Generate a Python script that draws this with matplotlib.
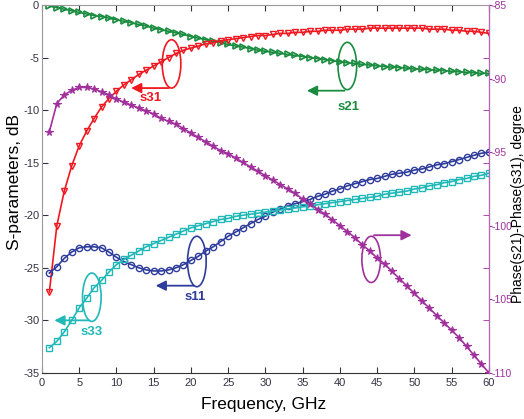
import matplotlib
matplotlib.use("Agg")
import matplotlib.pyplot as plt
from matplotlib.patches import Ellipse
import numpy as np

plt.rcParams["font.family"] = ["Liberation Sans", "DejaVu Sans"]
plt.rcParams["axes.unicode_minus"] = False

# frequency points, GHz
freq = list(range(1, 61))

s11 = [-25.5, -24.9, -24.1, -23.5, -23.1, -23.0, -23.0, -23.1, -23.5, -24.0,
       -24.4, -24.7, -25.0, -25.2, -25.3, -25.3, -25.2, -25.0, -24.7, -24.3,
       -23.9, -23.4, -23.0, -22.5, -22.0, -21.6, -21.2, -20.8, -20.4, -20.1,
       -19.7, -19.4, -19.1, -18.9, -18.7, -18.5, -18.2, -18.0, -17.7, -17.5,
       -17.2, -17.0, -16.8, -16.6, -16.5, -16.3, -16.1, -16.0, -15.9, -15.7,
       -15.6, -15.4, -15.2, -15.1, -14.9, -14.7, -14.5, -14.3, -14.1, -14.0]

s33 = [-32.6, -32.0, -31.1, -30.0, -28.8, -27.9, -26.9, -26.2, -25.4, -24.7,
       -24.2, -23.8, -23.4, -23.0, -22.7, -22.4, -22.1, -21.8, -21.5, -21.2,
       -21.0, -20.8, -20.6, -20.4, -20.3, -20.1, -20.0, -19.9, -19.8, -19.7,
       -19.6, -19.5, -19.4, -19.3, -19.2, -19.1, -19.0, -18.9, -18.8, -18.7,
       -18.6, -18.5, -18.4, -18.3, -18.2, -18.0, -17.9, -17.8, -17.7, -17.5,
       -17.4, -17.2, -17.1, -16.9, -16.8, -16.6, -16.5, -16.3, -16.2, -16.0]

s21 = [-0.1, -0.25, -0.4, -0.55, -0.7, -0.85, -1.0, -1.1, -1.25, -1.4,
       -1.55, -1.7, -1.85, -2.0, -2.2, -2.35, -2.5, -2.65, -2.8, -3.0,
       -3.15, -3.3, -3.45, -3.6, -3.75, -3.9, -4.0, -4.15, -4.3, -4.4,
       -4.5, -4.6, -4.7, -4.8, -4.9, -5.0, -5.1, -5.2, -5.3, -5.4,
       -5.5, -5.55, -5.65, -5.7, -5.8, -5.85, -5.9, -5.95, -6.0, -6.1,
       -6.1, -6.15, -6.2, -6.25, -6.3, -6.35, -6.4, -6.45, -6.5, -6.5]

s31 = [-27.3, -21.0, -17.7, -15.3, -13.4, -12.0, -10.8, -9.7, -8.9, -8.2,
       -7.6, -7.1, -6.6, -6.2, -5.8, -5.4, -5.0, -4.6, -4.3, -4.1,
       -3.9, -3.7, -3.6, -3.4, -3.3, -3.2, -3.1, -3.0, -2.9, -2.9,
       -2.8, -2.7, -2.7, -2.6, -2.6, -2.5, -2.5, -2.4, -2.4, -2.4,
       -2.3, -2.3, -2.3, -2.2, -2.2, -2.2, -2.2, -2.2, -2.2, -2.2,
       -2.2, -2.3, -2.3, -2.3, -2.4, -2.4, -2.5, -2.5, -2.6, -2.7]

# Phase(s21)-Phase(s31), degree
phase = [-93.6, -91.7, -91.1, -90.8, -90.6, -90.6, -90.7, -90.9, -91.1, -91.4,
         -91.6, -91.8, -92.0, -92.2, -92.4, -92.7, -92.9, -93.1, -93.4, -93.7,
         -94.0, -94.3, -94.6, -94.9, -95.1, -95.4, -95.7, -96.0, -96.3, -96.6,
         -96.9, -97.2, -97.5, -97.8, -98.2, -98.5, -98.9, -99.2, -99.6, -100.0,
         -100.4, -100.8, -101.3, -101.7, -102.2, -102.6, -103.1, -103.6, -104.1, -104.6,
         -105.1, -105.6, -106.1, -106.6, -107.1, -107.6, -108.2, -108.8, -109.4, -110.0]

c_red = "#F01820"
c_green = "#1A8C40"
c_blue = "#2E3C9C"
c_cyan = "#22B8B8"
c_purple = "#A0309C"

fig = plt.figure(figsize=(5.24, 4.19), dpi=100)
ax = fig.add_axes([0.080, 0.110, 0.853, 0.878])
ax2 = ax.twinx()

ms = 5
ax.plot(freq, s21, c=c_green, lw=1.2, marker=">", ms=ms, mfc="none", mew=1.2)
ax.plot(freq, s31, c=c_red, lw=1.2, marker="v", ms=ms, mfc="none", mew=1.0)
ax.plot(freq, s11, c=c_blue, lw=1.2, marker="o", ms=4.5, mfc="none", mew=1.0)
ax.plot(freq, s33, c=c_cyan, lw=1.2, marker="s", ms=4.5, mfc="none", mew=1.0)
ax2.plot(freq, phase, c=c_purple, lw=1.2, marker="*", ms=5.5, mew=0.8)

ax.set_xlim(0, 60)
ax.set_ylim(-35, 0)
ax.set_xticks(np.arange(0, 61, 5))
ax.set_yticks(np.arange(-35, 1, 5))
ax.tick_params(direction="in", top=True, labelsize=8, length=4, colors="#333344")
ax.tick_params(axis="y", pad=2)
ax2.set_ylim(-110, -85)
ax2.set_yticks(np.arange(-110, -84, 5))
ax2.set_yticks(np.linspace(-110, -85, 8), minor=True)
ax2.tick_params(axis="y", which="major", direction="out", length=2, labelsize=7.5,
                colors=c_purple, pad=0)
ax2.tick_params(axis="y", which="minor", direction="in", length=4, colors=c_purple)

for side in ["left", "top"]:
    ax.spines[side].set_color("#999999")
ax.spines["bottom"].set_color("#333333")
ax2.spines["right"].set_color("#C060C0")
for side in ["left", "top", "bottom"]:
    ax2.spines[side].set_visible(False)

ax.set_xlabel("Frequency, GHz", fontsize=12.5)
ax.xaxis.set_label_coords(0.497, -0.065)
ax.set_ylabel("S-parameters, dB", fontsize=12.5)
ax.yaxis.set_label_coords(-0.045, 0.52)
ax2.set_ylabel("Phase(s21)-Phase(s31), degree", fontsize=10, rotation=90)
ax2.yaxis.set_label_coords(1.049, 0.46)

# ellipse + arrow annotations (left axis units)
def mark(cx, cy, h, ay, ax_end, color, label, lx, ly):
    ax.add_patch(Ellipse((cx, cy), 2.5, h, fill=False, ec=color, lw=1.2, zorder=5))
    ax.annotate("", xy=(ax_end, ay), xytext=(cx, ay),
                arrowprops=dict(arrowstyle="-|>", color=color, lw=1.3,
                                mutation_scale=15))
    if label:
        ax.text(lx, ly, label, color=color, fontsize=9.5, fontweight="bold",
                ha="center", va="center")

mark(17.4, -5.6, 4.6, -7.9, 11.6, c_red, "s31", 14.6, -8.8)
mark(41.0, -5.8, 4.5, -8.15, 35.2, c_green, "s21", 41.1, -9.7)
mark(20.8, -24.4, 4.8, -26.7, 14.9, c_blue, "s11", 20.6, -27.8)
mark(6.7, -27.8, 4.6, -30.0, 1.3, c_cyan, "s33", 6.7, -31.1)
mark(44.2, -24.2, 4.4, -21.9, 50.0, c_purple, None, 0, 0)

fig.savefig("out.png", dpi=100)
